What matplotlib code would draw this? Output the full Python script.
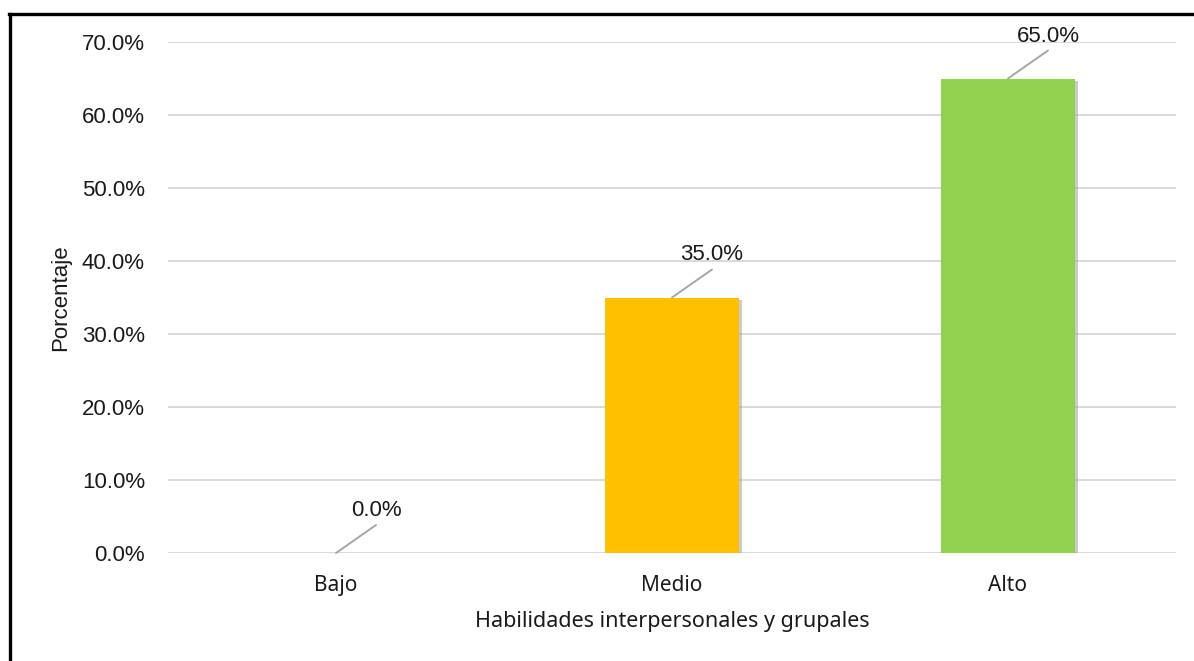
import matplotlib
matplotlib.use("Agg")
import matplotlib.pyplot as plt
from matplotlib.lines import Line2D
from matplotlib import patheffects as pe

categories = ["Bajo", "Medio", "Alto"]
values = [0.0, 35.0, 65.0]
colors = ["#4472C4", "#FFC000", "#92D050"]
yticks = [0, 10, 20, 30, 40, 50, 60, 70]

plt.rcParams['font.family'] = ['Liberation Sans', 'DejaVu Sans']
ARIAL = ['Liberation Sans', 'DejaVu Sans']
APTOS = ['Noto Sans', 'DejaVu Sans']
TXT = '#1a1a1a'

W, H = 1194, 661
PX = 72 / 100  # points per pixel
fig = plt.figure(figsize=(W / 100, H / 100), dpi=100)
ax = fig.add_axes([168 / W, 1 - 553 / H, (1176 - 168) / W, (553 - 42) / H])

x = list(range(len(categories)))
bars = ax.bar(x, values, width=0.4, color=colors, zorder=3,
              path_effects=[pe.SimplePatchShadow(offset=(2, -2), shadow_rgbFace='#999999', alpha=0.5), pe.Normal()])

ax.set_xlim(-0.5, 2.5)
ax.set_ylim(0, 70)
ax.set_yticks(yticks)
ax.set_yticklabels([f"{t:.1f}%" for t in yticks], fontsize=16, color=TXT, family=ARIAL)
ax.set_xticks(x)
ax.set_xticklabels(categories, fontsize=15, color=TXT, family=APTOS)
ax.tick_params(axis='both', length=0)
ax.tick_params(axis='y', pad=23 * PX)
ax.tick_params(axis='x', pad=22 * PX)
ax.grid(axis='y', color='#D9D9D9', linewidth=1.4, zorder=0)
for s in ax.spines.values():
    s.set_visible(False)

ax.set_ylabel("Porcentaje", fontsize=16, color=TXT, family=ARIAL, labelpad=8)
ax.set_xlabel("Habilidades interpersonales y grupales", fontsize=15.5, color=TXT, family=APTOS, labelpad=11)

for xi, v in zip(x, values):
    ax.annotate("", xy=(xi, v), xytext=(40 * PX, 28 * PX), textcoords='offset points',
                arrowprops=dict(arrowstyle='-', color='#A6A6A6', lw=1.4, shrinkA=0, shrinkB=0),
                zorder=5)
    ax.annotate(f"{v:.1f}%", xy=(xi, v), xytext=(40 * PX, 32 * PX), textcoords='offset points',
                ha='center', va='bottom', fontsize=16, color=TXT, family=ARIAL, zorder=5)

# figure border (top and left)
fig.add_artist(Line2D([10 / W, 10 / W], [0, 1 - 14 / H], transform=fig.transFigure, color='black', lw=2.4))
fig.add_artist(Line2D([9 / W, 1], [1 - 14 / H, 1 - 14 / H], transform=fig.transFigure, color='black', lw=2.4))

fig.savefig("out.png", dpi=100)
